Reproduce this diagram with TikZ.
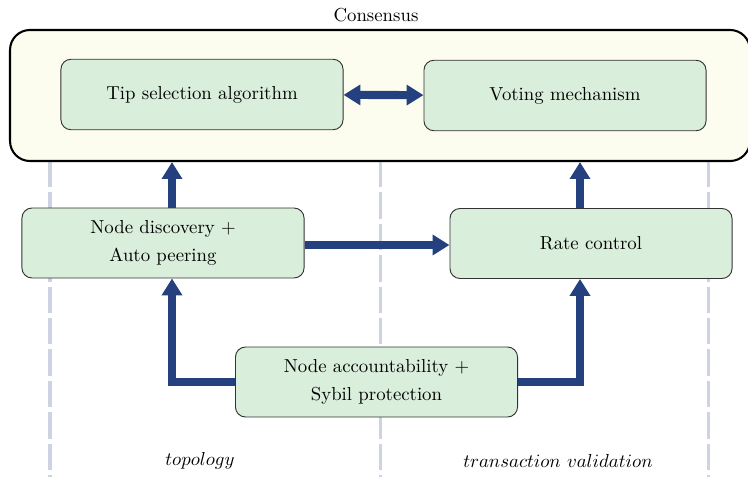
\documentclass[tikz,border=0pt]{standalone}
\usetikzlibrary{arrows.meta,calc}
\definecolor{boxgreen}{HTML}{D9EEDB}
\definecolor{cream}{HTML}{FDFDEF}
\definecolor{arrblue}{HTML}{25407E}
\definecolor{dashgray}{HTML}{CDD3E3}
\tikzset{
  compbox/.style={draw=black!80, line width=0.5pt, fill=boxgreen, rounded corners=5.3pt,
    minimum width=150pt, minimum height=37.5pt, align=center, inner sep=0pt},
  consbox/.style={draw=black, line width=1.1pt, fill=cream, rounded corners=10.6pt,
    minimum width=393.5pt, minimum height=69.7pt, inner sep=0pt},
  arr/.style={draw=arrblue, line width=4.3pt, -{Triangle[length=9pt,width=10.5pt]}},
  dblarr/.style={draw=arrblue, line width=4.3pt, {Triangle[length=9pt,width=10.5pt]}-{Triangle[length=9pt,width=10.5pt]}},
  divider/.style={draw=dashgray, line width=1.6pt, dash pattern=on 14pt off 2.7pt},
  lbl/.style={inner sep=0pt}
}
\begin{document}
\begin{tikzpicture}[x=0.5318pt,y=-0.5318pt]
\useasboundingbox (0,0) rectangle (748,477);
% dividers
\coordinate (d1t) at (50,161);  \coordinate (d1b) at (50,477);
\coordinate (d2t) at (380,161); \coordinate (d2b) at (380,477);
\coordinate (d3t) at (708,161); \coordinate (d3b) at (708,477);
\draw[divider] (d1t) -- (d1b);
\draw[divider] (d2t) -- (d2b);
\draw[divider] (d3t) -- (d3b);
% consensus
\node[consbox] (cons) at (380,95.5) {};
\node[lbl] (constitle) at (376,15) {Consensus};
\node[compbox] (tip) at (202,94.5) {Tip selection algorithm};
\node[compbox] (vote) at (565,95.5) {Voting mechanism};
% lower boxes
\node[compbox, minimum height=37.2pt] (nd) at (163,243) {Node discovery +\\[3pt]Auto peering};
\node[compbox, minimum height=37.2pt] (rc) at (591,243.5) {Rate control};
\node[compbox, minimum height=37.2pt] (na) at (376.5,382) {Node accountability +\\[3pt]Sybil protection};
% labels
\node[lbl] (ltop) at (200,461) {$topology$};
\node[lbl] (ltv) at (558,461) {$transaction\ validation$};
% arrows
\coordinate (xl) at (172,0);
\coordinate (xr) at (580,0);
\coordinate (yh) at (0,245);
\draw[dblarr] (tip) -- (vote);
\draw[arr] (xl |- nd.north) -- (xl |- cons.south);
\draw[arr] (xr |- rc.north) -- (xr |- cons.south);
\draw[arr] (nd.east |- yh) -- (rc.west |- yh);
\draw[arr] (na.west) -| (xl |- nd.south);
\draw[arr] (na.east) -| (xr |- rc.south);
\end{tikzpicture}
\end{document}
